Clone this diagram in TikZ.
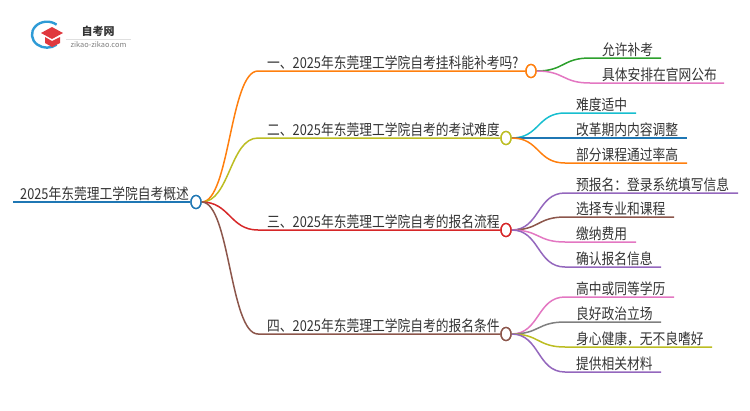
\documentclass[tikz,border=0pt]{standalone}
\usepackage{fontspec}
\setmainfont{Noto Sans CJK SC}
\usetikzlibrary{shapes.geometric}
\definecolor{txtgray}{HTML}{333333}
\definecolor{rootblue}{HTML}{1F77B4}
\definecolor{lineorange}{HTML}{FF7F0E}
\definecolor{lineolive}{HTML}{BCBD22}
\definecolor{linered}{HTML}{D62728}
\definecolor{linebrown}{HTML}{8C564B}
\definecolor{linegreen}{HTML}{2CA02C}
\definecolor{linepink}{HTML}{E377C2}
\definecolor{linecyan}{HTML}{17BECF}
\definecolor{linepurple}{HTML}{9467BD}
\definecolor{linegray}{HTML}{7F7F7F}
\definecolor{logoblue}{HTML}{2E9BD6}
\definecolor{logored}{HTML}{E0383E}
\tikzset{
  hub/.style={draw=#1,fill=white,ellipse,line width=1.4pt,minimum width=10pt,minimum height=13pt,inner sep=0pt},
  wire/.style={draw=#1,line width=1.5pt},
  swoop/.style={out=0,in=180,distance=28pt},
  lab/.style={anchor=base west,inner sep=0pt,text=txtgray,yshift=-1pt,yscale=1.18,transform shape,font=\fontsize{12.75pt}{14pt}\selectfont},
}
\begin{document}
\begin{tikzpicture}[x=1pt,y=-1pt]
    \useasboundingbox (0,0) rectangle (750,410);
    % Definitions:
    \coordinate (rs) at (13,202);
    \node[hub=rootblue] (root) at (196,202) {};
    \node[hub=lineorange] (h1) at (531,71) {};
    \node[hub=lineolive] (h2) at (506,138) {};
    \node[hub=linered] (h3) at (506,230) {};
    \node[hub=linebrown] (h4) at (506,334) {};
    \coordinate (k1) at (258,71);
    \coordinate (k2) at (258,138);
    \coordinate (k3) at (258,230);
    \coordinate (k4) at (258,334);
    \coordinate (a1) at (590,58);   \coordinate (a1e) at (661,58);
    \coordinate (a2) at (590,83);   \coordinate (a2e) at (724,83);
    \coordinate (b1) at (565,113);  \coordinate (b1e) at (636,113);
    \coordinate (b2) at (565,138);  \coordinate (b2e) at (687,138);
    \coordinate (b3) at (565,163);  \coordinate (b3e) at (687,163);
    \coordinate (c1) at (565,193);  \coordinate (c1e) at (738,193);
    \coordinate (c2) at (565,217);  \coordinate (c2e) at (674,217);
    \coordinate (c3) at (565,242);  \coordinate (c3e) at (636,242);
    \coordinate (c4) at (565,267);  \coordinate (c4e) at (661,267);
    \coordinate (d1) at (565,297);  \coordinate (d1e) at (674,297);
    \coordinate (d2) at (565,322);  \coordinate (d2e) at (661,322);
    \coordinate (d3) at (565,347);  \coordinate (d3e) at (712,347);
    \coordinate (d4) at (565,372);  \coordinate (d4e) at (661,372);
    % Drawing:
    \draw[wire=rootblue] (rs) -- (root);
    \draw[wire=lineorange] (root.east) to[swoop] (k1) -- (h1);
    \draw[wire=lineolive] (root.east) to[swoop] (k2) -- (h2);
    \draw[wire=linered] (root.east) to[swoop] (k3) -- (h3);
    \draw[wire=linebrown] (root.east) to[swoop] (k4) -- (h4);
    \draw[wire=linegreen] (h1.east) to[swoop] (a1) -- (a1e);
    \draw[wire=linepink] (h1.east) to[swoop] (a2) -- (a2e);
    \draw[wire=linecyan] (h2.east) to[swoop] (b1) -- (b1e);
    \draw[wire=rootblue] (h2.east) to[swoop] (b2) -- (b2e);
    \draw[wire=lineorange] (h2.east) to[swoop] (b3) -- (b3e);
    \draw[wire=linepurple] (h3.east) to[swoop] (c1) -- (c1e);
    \draw[wire=linebrown] (h3.east) to[swoop] (c2) -- (c2e);
    \draw[wire=linepink] (h3.east) to[swoop] (c3) -- (c3e);
    \draw[wire=linepurple] (h3.east) to[swoop] (c4) -- (c4e);
    \draw[wire=linepink] (h4.east) to[swoop] (d1) -- (d1e);
    \draw[wire=linegray] (h4.east) to[swoop] (d2) -- (d2e);
    \draw[wire=lineolive] (h4.east) to[swoop] (d3) -- (d3e);
    \draw[wire=linepurple] (h4.east) to[swoop] (d4) -- (d4e);
    \node[hub=rootblue] (rootdot) at (root) {};
    \node[hub=lineorange] (h1dot) at (h1) {};
    \node[hub=lineolive] (h2dot) at (h2) {};
    \node[hub=linered] (h3dot) at (h3) {};
    \node[hub=linebrown] (h4dot) at (h4) {};
    % Logo:
    \draw[line width=2.4pt,draw=logoblue] (56.6,24.7) arc[start angle=-50,end angle=-310,x radius=15,y radius=13];
    \fill[logored] (52,27) -- (63,33) -- (52,39) -- (41,33) -- cycle;
    \fill[logored] (45,37) -- (52,41) -- (60,37) -- (60,43) -- (52,47) -- (45,43) -- cycle;
    \draw[gray!25,line width=.5pt] (66,39) -- (131,39);
    \node[inner sep=0pt,text=txtgray,font=\bfseries\fontsize{11pt}{12pt}\selectfont] (logotext) at (98,31) {自考网};
    \node[inner sep=0pt,text=gray,font=\fontsize{7.4pt}{8pt}\selectfont] (logourl) at (98.5,45) {zikao-zikao.com};
    % Labels:
    \node[lab] (troot) at (20,198) {2025年东莞理工学院自考概述};
    \node[lab] (t1) at (267,67) {一、2025年东莞理工学院自考挂科能补考吗?};
    \node[lab] (t2) at (267,134) {二、2025年东莞理工学院自考的考试难度};
    \node[lab] (t3) at (267,226) {三、2025年东莞理工学院自考的报名流程};
    \node[lab] (t4) at (267,330) {四、2025年东莞理工学院自考的报名条件};
    \node[lab] (ta1) at (602,54) {允许补考};
    \node[lab] (ta2) at (602,79) {具体安排在官网公布};
    \node[lab] (tb1) at (576,109) {难度适中};
    \node[lab] (tb2) at (576,134) {改革期内内容调整};
    \node[lab] (tb3) at (576,159) {部分课程通过率高};
    \node[lab] (tc1) at (576,189) {预报名：登录系统填写信息};
    \node[lab] (tc2) at (576,213) {选择专业和课程};
    \node[lab] (tc3) at (576,238) {缴纳费用};
    \node[lab] (tc4) at (576,263) {确认报名信息};
    \node[lab] (td1) at (576,293) {高中或同等学历};
    \node[lab] (td2) at (576,318) {良好政治立场};
    \node[lab] (td3) at (576,343) {身心健康，无不良嗜好};
    \node[lab] (td4) at (576,368) {提供相关材料};
\end{tikzpicture}
\end{document}
